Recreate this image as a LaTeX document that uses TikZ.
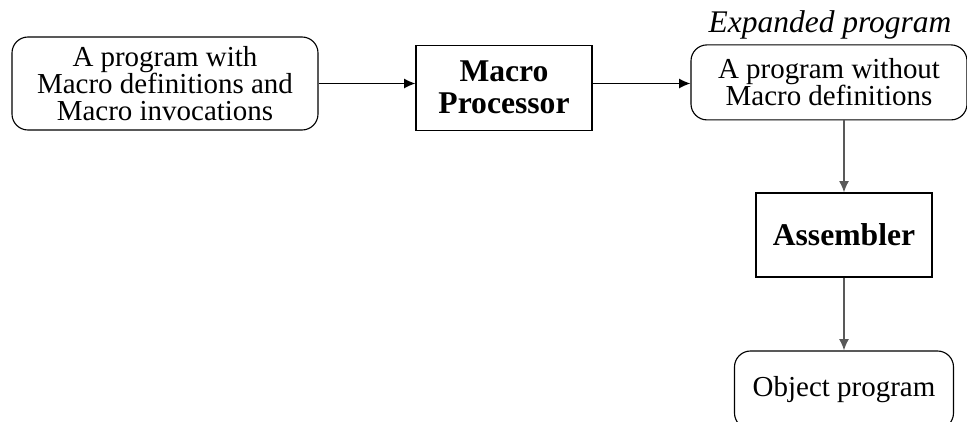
\documentclass[tikz,border=0pt]{standalone}
\usepackage{fontspec}
\setmainfont{Liberation Serif}
\usetikzlibrary{arrows.meta}

\begin{document}
\begin{tikzpicture}[
    prog/.style={rectangle, rounded corners=0.4cm, draw, line width=0.8pt, align=center, font=\fontsize{20.6}{19.4}\selectfont},
    proc/.style={rectangle, draw, line width=0.8pt, align=center, font=\fontsize{22.5}{23}\selectfont\bfseries},
    flow/.style={-{Latex[length=8pt,width=7pt]}, line width=0.8pt},
    vflow/.style={flow, draw=black!65, line width=1pt}
]
    \useasboundingbox (0,0) rectangle (24.175,-10.525);

    % Boxes
    \node[prog, minimum width=7.65cm, minimum height=2.325cm] (src) at (4.125,-2.0875)
        {A program with\\Macro definitions and\\Macro invocations};
    \node[proc, minimum width=4.4cm, minimum height=2.125cm] (mp) at (12.6,-2.19)
        {Macro\\Processor};
    \node[prog, minimum width=6.9cm, minimum height=1.875cm] (exp) at (20.725,-2.06)
        {A program without\\Macro definitions};
    \node[font=\fontsize{22.4}{24}\selectfont\itshape] (explabel) at (20.75,-0.62) {Expanded program};
    \node[proc, minimum width=4.4cm, minimum height=2.1cm] (asm) at (21.1,-5.875) {Assembler};
    \node[prog, minimum width=5.475cm, minimum height=1.95cm] (obj) at (21.1,-9.75) {Object program};

    % Arrows
    \draw[flow] (src.east) -- (src.east -| mp.west);
    \draw[flow] (src.east -| mp.east) -- (src.east -| exp.west);
    \draw[vflow] (exp.south -| asm.north) -- (asm.north);
    \draw[vflow] (asm.south) -- (obj.north);

\end{tikzpicture}
\end{document}
